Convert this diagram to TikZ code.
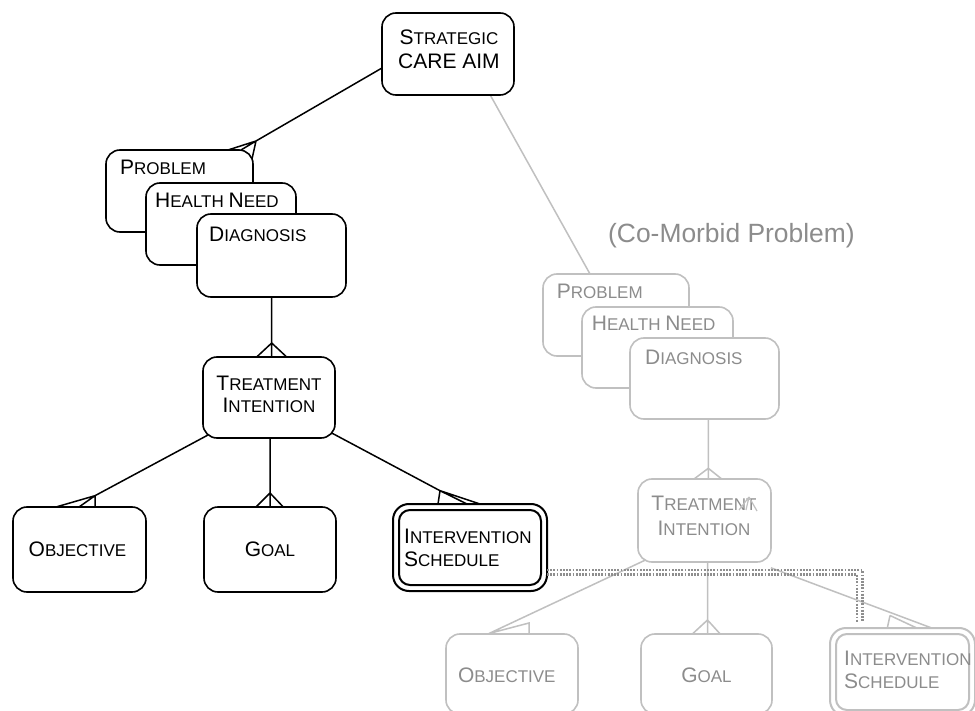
\documentclass[tikz,border=0pt]{standalone}
\usepackage{fontspec}
\setmainfont{Liberation Sans}
\usetikzlibrary{calc}
\definecolor{lg}{HTML}{C0C0C0}
\definecolor{tg}{HTML}{8C8C8C}
\definecolor{dg}{HTML}{8E8E8E}
\newcommand\bigc[1]{{\fontsize{21}{23}\selectfont #1}}
\tikzset{
 bx/.style={draw=black, line width=1.6pt, rounded corners=14pt, fill=white, inner sep=0pt},
 gbx/.style={bx, draw=lg},
 lbl/.style={inner sep=0pt, font=\fontsize{17}{23}\selectfont, text=black},
 glbl/.style={lbl, text=tg},
 cn/.style={draw=black, line width=1.5pt},
 gcn/.style={draw=lg, line width=1.5pt},
 dotl/.style={draw=dg, line width=2.2pt, dash pattern=on 1.8pt off 1.4pt},
}
\begin{document}
\begin{tikzpicture}[x=1pt,y=-1pt]
\useasboundingbox (0,0) rectangle (975,711);
\fill[white] (0,0) rectangle (975,711);
\clip (0,0) rectangle (975,711);

% ---------- coordinates for connectors ----------
\coordinate (s1) at (382,68);   \coordinate (pa) at (256,141);
\coordinate (pf1) at (228,150); \coordinate (pf2) at (241,150); \coordinate (pf3) at (252,159);
\coordinate (d1) at (271.7,297); \coordinate (ta) at (271.7,343);
\coordinate (tf1) at (256.7,357); \coordinate (tf2) at (271.7,357); \coordinate (tf3) at (286.7,357);
\coordinate (t1) at (208,435); \coordinate (oa) at (95,495.7);
\coordinate (of1) at (56,507); \coordinate (of2) at (79,507); \coordinate (of3) at (95,507);
\coordinate (t2) at (270,438); \coordinate (ga) at (270,493);
\coordinate (gf1) at (256,507); \coordinate (gf2) at (270,507); \coordinate (gf3) at (283.3,507);
\coordinate (t3) at (331.7,433); \coordinate (ia) at (440,490.7);
\coordinate (if1) at (438,504); \coordinate (if2) at (467,504); \coordinate (if3) at (480,504);

\coordinate (s2) at (488,91); \coordinate (gp) at (590,274);
\coordinate (gd) at (708.3,419); \coordinate (gta) at (708.3,468.3);
\coordinate (gtf1) at (694,479); \coordinate (gtf2) at (708.3,479); \coordinate (gtf3) at (721.7,479);
\coordinate (gt1) at (645.5,560); \coordinate (gof) at (489,633.5);
\coordinate (goa) at (529,623); \coordinate (gof2) at (529,633.5);
\coordinate (gt2) at (707.5,562); \coordinate (gga) at (707.5,620);
\coordinate (ggf1) at (692.4,634); \coordinate (ggf2) at (707.5,634); \coordinate (ggf3) at (720.2,634);
\coordinate (gt3) at (770.9,567.8); \coordinate (gia) at (890,615.5);
\coordinate (gif1) at (887.3,628); \coordinate (gif2) at (916.7,628); \coordinate (gif3) at (931.7,628);
\coordinate (wa) at (749,497);
\coordinate (wf1) at (739,510); \coordinate (wf2) at (746,510); \coordinate (wf3) at (757,511);
\coordinate (dA) at (547,570); \coordinate (dB) at (862.5,570); \coordinate (dC) at (862.5,622);
\coordinate (dA2) at (547,574.5); \coordinate (dB2) at (857,574.5); \coordinate (dC2) at (857,622);

% ---------- gray connectors ----------
\draw[gcn] (s2) -- (gp);
\draw[gcn] (gd) -- (gtf2) (gta) -- (gtf1) (gta) -- (gtf3);
\draw[gcn] (gt1) -- (gof) -- (goa) -- (gof2);
\draw[gcn] (gt2) -- (ggf2) (gga) -- (ggf1) (gga) -- (ggf3);
\draw[gcn] (gt3) -- (gif3) (gia) -- (gif1) (gia) -- (gif2);

% ---------- black connectors ----------
\draw[cn] (s1) -- (pa) (pa) -- (pf1) (pa) -- (pf2) (pa) -- (pf3);
\draw[cn] (d1) -- (tf2) (ta) -- (tf1) (ta) -- (tf3);
\draw[cn] (t1) -- (oa) (oa) -- (of1) (oa) -- (of2) (oa) -- (of3);
\draw[cn] (t2) -- (gf2) (ga) -- (gf1) (ga) -- (gf3);
\draw[cn] (t3) -- (ia) (ia) -- (if1) (ia) -- (if2) (ia) -- (if3);

% ---------- black nodes ----------
\node[bx, minimum width=132pt, minimum height=82pt] (strat) at (448,54) {};
\node[lbl, anchor=base] (strat1) at (449,45) {\bigc{S}TRATEGIC};
\node[lbl, anchor=base] (strat2) at (449,69) {\bigc{CARE AIM}};

\node[bx, minimum width=147pt, minimum height=82pt] (prob) at (179.5,191) {};
\node[lbl, anchor=base west] (probt) at (120,175) {\bigc{P}ROBLEM};
\node[bx, minimum width=150pt, minimum height=82pt] (hneed) at (221,224) {};
\node[lbl, anchor=base west] (hneedt) at (155,208) {\bigc{H}EALTH \bigc{N}EED};
\node[bx, minimum width=149pt, minimum height=83pt] (diag) at (271.5,255.5) {};
\node[lbl, anchor=base west] (diagt) at (209,242) {\bigc{D}IAGNOSIS};

\node[bx, minimum width=132pt, minimum height=81pt] (treat) at (269,397.5) {};
\node[lbl, anchor=base] (treat1) at (269,390) {\bigc{T}REATMENT};
\node[lbl, anchor=base] (treat2) at (269,413) {\bigc{I}NTENTION};

\node[bx, minimum width=133pt, minimum height=85pt] (obj) at (79.5,549.5) {};
\node[lbl, anchor=base] (objt) at (77.5,556.5) {\bigc{O}BJECTIVE};
\node[bx, minimum width=132pt, minimum height=85pt] (goal) at (270,549.5) {};
\node[lbl, anchor=base] (goalt) at (270,556.5) {\bigc{G}OAL};

\node[bx, line width=2pt, rounded corners=16pt, minimum width=154pt, minimum height=87pt] (interv) at (470,547.5) {};
\node[bx, line width=2pt, rounded corners=11pt, minimum width=142pt, minimum height=75pt] (intervi) at (470,547.5) {};
\node[lbl, anchor=base west] (interv1) at (404,543) {\bigc{I}NTERVENTION};
\node[lbl, anchor=base west] (interv2) at (404,566) {\bigc{S}CHEDULE};

% ---------- gray nodes ----------
\node[anchor=base west, inner sep=0pt, text=tg, font=\fontsize{26.4}{30}\selectfont] (comorb) at (608,243) {(Co-Morbid Problem)};

\node[gbx, minimum width=146pt, minimum height=82pt] (gprob) at (616,315) {};
\node[glbl, anchor=base west] (gprobt) at (556.7,298.3) {\bigc{P}ROBLEM};
\node[gbx, minimum width=151pt, minimum height=81pt] (ghneed) at (657.5,347.5) {};
\node[glbl, anchor=base west] (ghneedt) at (591.7,330.7) {\bigc{H}EALTH \bigc{N}EED};
\node[gbx, minimum width=149pt, minimum height=81pt] (gdiag) at (704.5,378.5) {};
\node[glbl, anchor=base west] (gdiagt) at (645,365) {\bigc{D}IAGNOSIS};

\node[gbx, minimum width=133pt, minimum height=83pt] (gtreat) at (704.5,520.5) {};
\node[glbl, anchor=base] (gtreat1) at (704,510) {\bigc{T}REATMENT};
\node[glbl, anchor=base] (gtreat2) at (704,535) {\bigc{I}NTENTION};

\node[gbx, minimum width=132pt, minimum height=80pt] (gobj) at (512,674) {};
\node[glbl, anchor=base west] (gobjt) at (457.8,682.5) {\bigc{O}BJECTIVE};
\node[gbx, minimum width=131pt, minimum height=80pt] (ggoal) at (706.5,674) {};
\node[glbl, anchor=base] (ggoalt) at (706.5,682.5) {\bigc{G}OAL};

\node[gbx, line width=2pt, rounded corners=16pt, minimum width=145pt, minimum height=88pt] (ginterv) at (902.5,672) {};
\node[gbx, line width=2pt, rounded corners=11pt, minimum width=133pt, minimum height=76pt] (ginterv-i) at (902.5,672) {};
\node[glbl, anchor=base west] (ginterv1) at (844,665.7) {\bigc{I}NTERVENTION};
\node[glbl, anchor=base west] (ginterv2) at (844,688.3) {\bigc{S}CHEDULE};

% odd small crow's foot over the gray treatment label
\draw[gcn, line width=1.2pt] (wa) -- (wf1) (wa) -- (wf2) (wa) -- (wf3);

% ---------- dotted double connector ----------
\draw[dotl] (dA) -- (dB) -- (dC);
\draw[dotl] (dA2) -- (dB2) -- (dC2);
\end{tikzpicture}
\end{document}
